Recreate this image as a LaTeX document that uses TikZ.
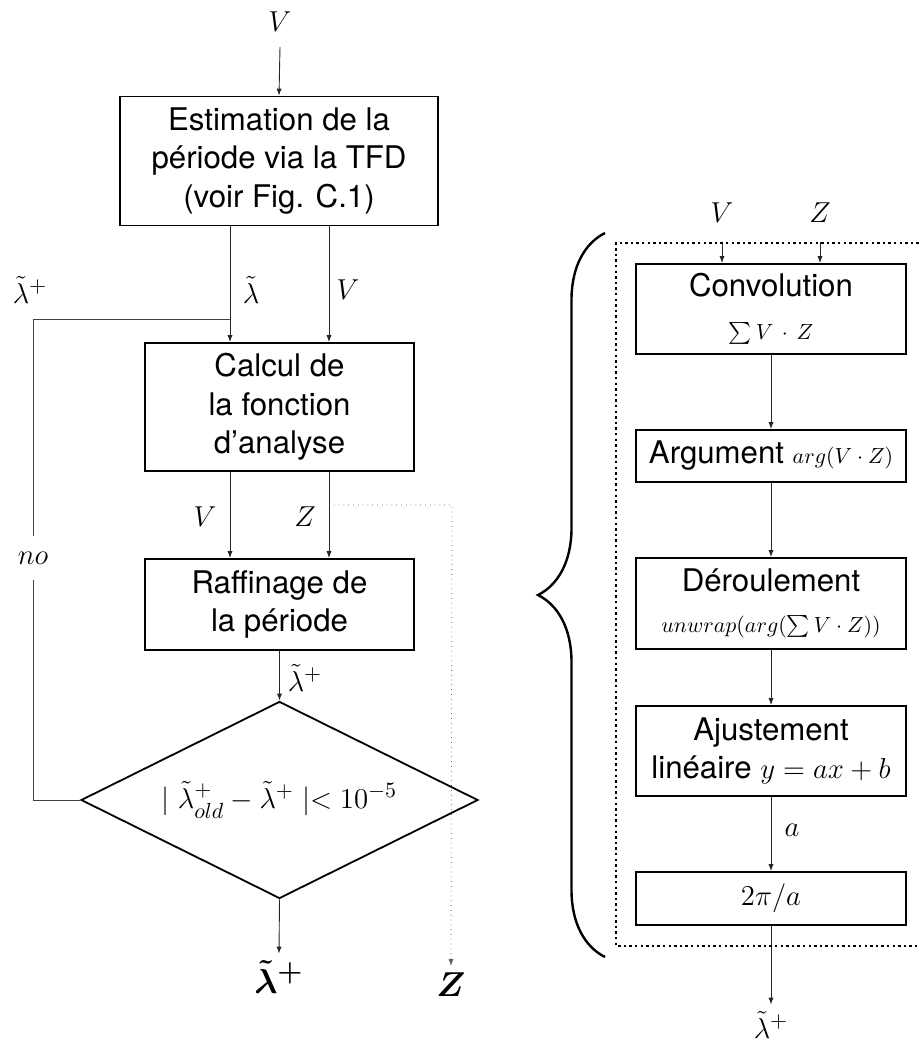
\documentclass[tikz,border=0pt]{standalone}
\usepackage{amsmath}
\usepackage{fontspec}
\setmainfont{TeX Gyre Heros}
\usetikzlibrary{positioning,arrows.meta,shapes.geometric,decorations.pathreplacing}
\newcommand{\fsmall}{\fontsize{11}{12}\selectfont}

\begin{document}
\begin{tikzpicture}[x=0.5pt,y=-0.5pt,>={Latex[length=3.5pt,width=2.6pt]},
  every node/.style={font=\fontsize{15.6}{19.2}\selectfont},
  box/.style={draw,line width=0.9pt,align=center,inner sep=0pt},
  flow/.style={->,line width=0.45pt,black!85},
  outlab/.style={font=\fontsize{19}{20}\selectfont\boldmath}]
\useasboundingbox (0,0) rectangle (920,1044);

% main loop
\node (vtop) at (280,22) {$V$};
\node[box,minimum width=159pt,minimum height=64.5pt] (est) at (279,161) {Estimation de la\\p\'eriode via la TFD\\(voir Fig. C.1)};
\node[box,minimum width=134.5pt,minimum height=64pt] (calc) at (279.5,407) {Calcul de\\la fonction\\d'analyse};
\node[box,minimum width=134.5pt,minimum height=45.5pt] (raf) at (279.5,604.5) {Raffinage de\\la p\'eriode};
\node[draw,diamond,aspect=2,line width=0.9pt,minimum width=198.5pt,minimum height=98.5pt,inner sep=0pt] (test) at (279.5,800) {$\mid\tilde{\lambda}^{+}_{old}-\tilde{\lambda}^{+}\mid<10^{-5}$};
\coordinate (cL) at (230,0);
\coordinate (cR) at (329,0);
\coordinate (join) at (230,319);
\coordinate (zsplit) at (329,505);
\coordinate (zturn) at (452,505);
\node (lam) at (251,290) {$\tilde{\lambda}$};
\node (vmid) at (348,290) {$V$};
\node (lamfb) at (30,290) {$\tilde{\lambda}^{+}$};
\node (vlow) at (205,517) {$V$};
\node (zlow) at (305,517) {$Z$};
\node (lamraf) at (305,678) {$\tilde{\lambda}^{+}$};
\node[minimum height=22pt,inner sep=0pt] (nolab) at (33,558) {$no$};
\node[outlab] (lamout) at (279,977) {$\tilde{\lambda}^{+}$};
\node[outlab] (zout) at (451,985) {$Z$};

\draw[flow] (vtop.south) ++(0,-4pt) -- (est.north);
\draw[flow] (est.south -| cL) -- (calc.north -| cL);
\draw[flow] (est.south -| cR) -- (calc.north -| cR);
\draw[flow] (calc.south -| cL) -- (raf.north -| cL);
\draw[flow] (calc.south -| cR) -- (raf.north -| cR);
\draw[flow] (raf.south) -- (test.north);
\draw[flow] (test.south) -- (lamout.north);
\draw[line width=0.4pt,black!75] (test.west) -| (nolab.south);
\draw[line width=0.4pt,black!75] (nolab.north) |- (join);
\draw[->,dotted,line width=0.4pt,black!60] (zsplit) -- (zturn) -- (zout.north);

% detail of the refinement step
\node (vin) at (722,213) {$V$};
\node (zin) at (820,213) {$Z$};
\node[box,minimum width=135pt,minimum height=45pt] (conv) at (771,309) {Convolution\\[2pt]{\fsmall$\sum V\,\cdot\,Z$}};
\node[box,minimum width=135pt,minimum height=26pt] (arg) at (771,456) {Argument {\fsmall$arg(V\cdot Z)$}};
\node[box,minimum width=135pt,minimum height=45.5pt] (unw) at (771,603.5) {D\'eroulement\\[1pt]{\fsmall$unwrap(arg(\sum V\cdot Z))$}};
\node[box,minimum width=135pt,minimum height=45pt] (fit) at (771,751) {Ajustement\\lin\'eaire $y=ax+b$};
\node[box,minimum width=135pt,minimum height=26.5pt] (inv) at (771,898.5) {$2\pi/a$};
\node (alab) at (792,830) {$a$};
\node (lamfin) at (771,1025) {$\tilde{\lambda}^{+}$};

\draw[flow] (vin.south) ++(0,-6pt) -- (conv.north -| vin);
\draw[flow] (zin.south) ++(0,-6pt) -- (conv.north -| zin);
\draw[flow] (conv) -- (arg);
\draw[flow] (arg) -- (unw);
\draw[flow] (unw) -- (fit);
\draw[flow] (fit) -- (inv);
\draw[flow] (inv) -- (lamfin);

\draw[dotted,line width=1.2pt,dash pattern=on 1.2pt off 1.6pt] (930,243) -- (616,243) -- (616,946) -- (930,946);
\draw[decorate,decoration={brace,amplitude=33.5pt},line width=1.2pt] (605,957) -- (605,233);
\end{tikzpicture}
\end{document}
